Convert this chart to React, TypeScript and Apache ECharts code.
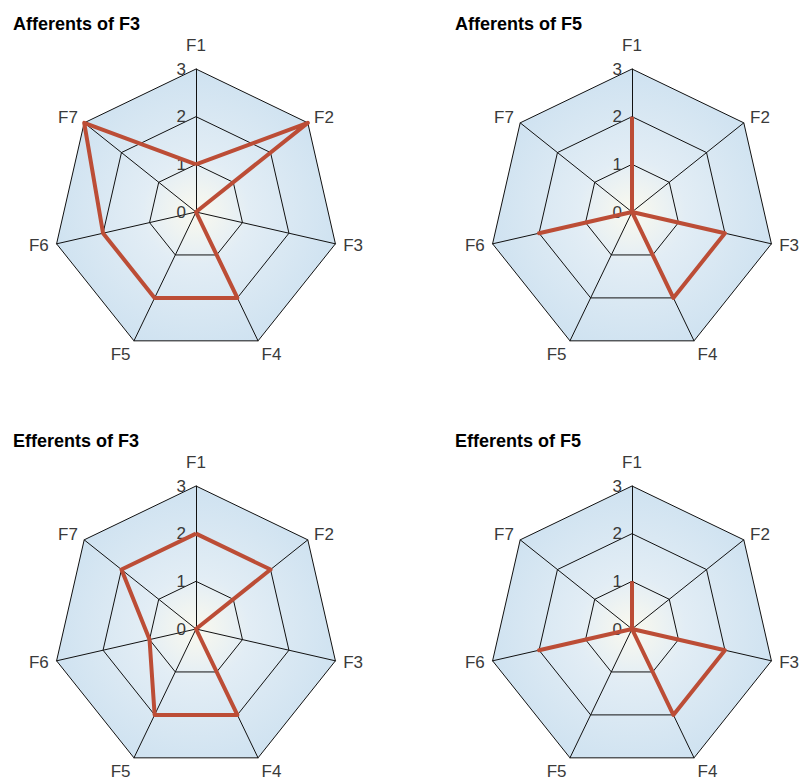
import React, { useEffect, useRef } from "react";
import * as echarts from "echarts";

// Axis names, listed clockwise from the top
const axes = ["F1", "F2", "F3", "F4", "F5", "F6", "F7"];
const axisMax = 3;
const tickLabels = ["0", "1", "2", "3"];

// Connection counts per axis, in the same order as `axes`
const afferentsF3 = [1, 3, 0, 2, 2, 2, 3];
const afferentsF5 = [2, 0, 2, 2, 0, 2, 0];
const efferentsF3 = [2, 2, 0, 2, 2, 1, 2];
const efferentsF5 = [1, 0, 2, 2, 0, 2, 0];

const panels = [
  { title: "Afferents of F3", values: afferentsF3 },
  { title: "Afferents of F5", values: afferentsF5 },
  { title: "Efferents of F3", values: efferentsF3 },
  { title: "Efferents of F5", values: efferentsF5 },
];

const FONT = "'Liberation Sans', Arial, Helvetica, sans-serif";
const LINE_COLOR = "#bc4d36";
const TEXT_COLOR = "#3a3a3a";

// ECharts lays radar indicators out counter-clockwise, so keep the first
// axis at the top and reverse the rest to read clockwise.
const order = [0, ...axes.slice(1).map((_, i) => axes.length - 1 - i)];
const reorder = <T,>(arr: T[]) => order.map((i) => arr[i]);

export default function App() {
  const ref = useRef<HTMLDivElement>(null);

  useEffect(() => {
    if (!ref.current) return;
    const chart = echarts.init(ref.current, undefined, { renderer: "svg" });

    const centers = [
      [196, 212],
      [632, 212],
      [196, 629],
      [632, 629],
    ];
    const titlePos = [
      [13, 15],
      [455, 15],
      [13, 432],
      [455, 432],
    ];

    const background = new echarts.graphic.RadialGradient(0.5, 0.526, 0.55, [
      { offset: 0, color: "#faf9ee" },
      { offset: 0.35, color: "#e2edf5" },
      { offset: 1, color: "#cde1f0" },
    ]);

    const nameStyle = { color: TEXT_COLOR, fontSize: 17, fontFamily: FONT };

    const radar = panels.map((_, p) => ({
      center: centers[p],
      radius: 143,
      startAngle: 90,
      splitNumber: tickLabels.length - 1,
      shape: "polygon",
      nameGap: 8,
      axisName: {
        ...nameStyle,
        formatter: (name: string) =>
          name === "F1"
            ? `{up|${name}}`
            : name === "F4" || name === "F5"
            ? `{down|${name}}`
            : name,
        rich: {
          up: { ...nameStyle, padding: [0, 0, 7, 0] },
          down: { ...nameStyle, padding: [12, 0, 0, 0] },
        },
      },
      // Only the top axis carries tick labels
      indicator: reorder(axes).map((name, i) =>
        i === 0
          ? { name, min: 0, max: axisMax }
          : { name, min: 0, max: axisMax, axisLabel: { show: false } }
      ),
      axisLabel: {
        show: true,
        color: TEXT_COLOR,
        fontSize: 17,
        fontFamily: FONT,
        margin: 10,
        formatter: (v: number) => tickLabels[Math.round(v)] ?? String(v),
      },
      axisTick: { show: false },
      axisLine: { lineStyle: { color: "#111", width: 1 } },
      splitLine: { lineStyle: { color: "#111", width: 1 } },
      splitArea: {
        show: true,
        areaStyle: { color: [background] },
      },
    }));

    const series = panels.map((panel, p) => ({
      type: "radar",
      radarIndex: p,
      symbol: "none",
      lineStyle: { color: LINE_COLOR, width: 4 },
      itemStyle: { color: LINE_COLOR },
      data: [{ value: reorder(panel.values), name: panel.title }],
    }));

    chart.setOption({
      animation: false,
      backgroundColor: "#fff",
      title: panels.map((panel, p) => ({
        text: panel.title,
        left: titlePos[p][0],
        top: titlePos[p][1],
        padding: 0,
        textStyle: {
          color: "#000",
          fontSize: 18,
          fontWeight: "bold",
          fontFamily: FONT,
        },
      })),
      radar,
      series,
    });

    return () => chart.dispose();
  }, []);

  return (
    <div
      ref={ref}
      style={{ position: "absolute", left: 0, top: 0, width: 800, height: 781 }}
    />
  );
}
